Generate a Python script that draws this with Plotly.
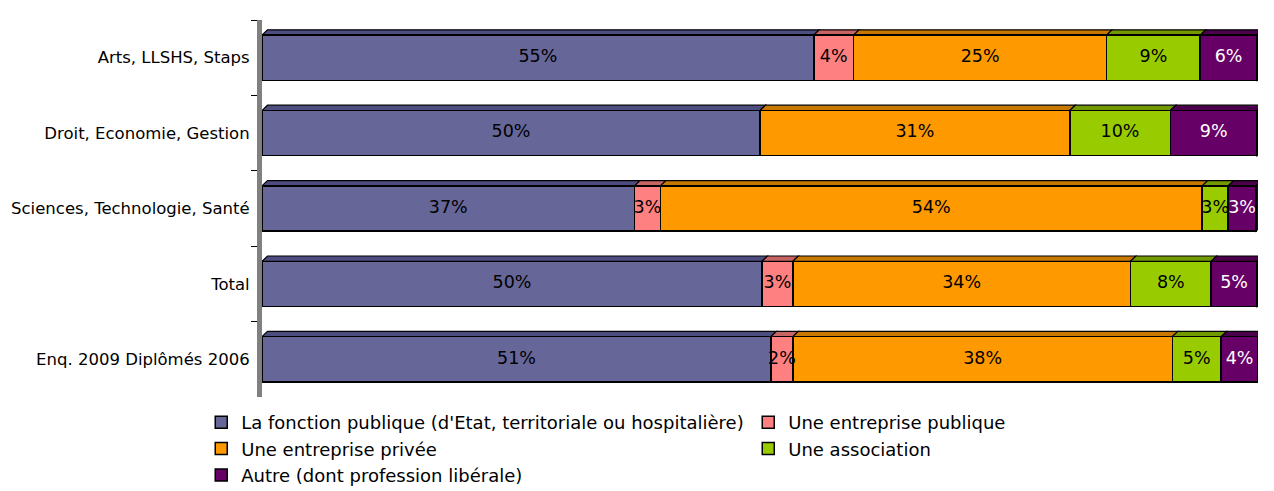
import plotly.graph_objects as go

categories = ["Arts, LLSHS, Staps", "Droit, Economie, Gestion",
              "Sciences, Technologie, Santé", "Total", "Enq. 2009 Diplômés 2006"]

series_names = ["La fonction publique (d'Etat, territoriale ou hospitalière)",
                "Une entreprise publique", "Une entreprise privée",
                "Une association", "Autre (dont profession libérale)"]

fonction_publique = [55.4, 50.0, 37.4, 50.2, 51.1]
entreprise_publique = [4.0, None, 2.6, 3.1, 2.2]
entreprise_privee = [25.4, 31.1, 54.4, 33.9, 38.1]
association = [9.4, 10.1, 2.6, 8.1, 4.9]
autre = [5.7, 8.7, 2.8, 4.6, 3.7]

colors = ["#666699", "#FF8080", "#FF9900", "#99CC00", "#660066"]
top_colors = ["#4D4D80", "#C86464", "#C87800", "#739900", "#4A004A"]
side_color = "#330033"
text_colors = ["black", "black", "black", "black", "white"]

FONT = "DejaVu Sans"
series = [fonction_publique, entreprise_publique, entreprise_privee, association, autre]

# page body has an 8px margin, so the figure is sized to fit the window
W, H = 1266, 483

fig = go.Figure()
for name, vals, col in zip(series_names, series, colors):
    fig.add_trace(go.Bar(
        y=categories, x=vals, name=name, orientation="h",
        marker=dict(color=col, line=dict(color="black", width=1.5)),
        hoverinfo="x+name",
    ))

# value labels centred on each segment (cumulative mid-points of the stack)
cum = [0.0] * len(categories)
for vals, tcol in zip(series, text_colors):
    xs, ys, ts = [], [], []
    for i, v in enumerate(vals):
        if not v:
            continue
        xs.append(cum[i] + v / 2)
        ys.append(categories[i])
        ts.append(f"{v:.0f}%")
        cum[i] += v
    fig.add_trace(go.Scatter(x=xs, y=ys, text=ts, mode="text", showlegend=False,
                             textfont=dict(color=tcol, size=17.5, family=FONT),
                             hoverinfo="skip", cliponaxis=False))

# pseudo-3D depth faces derived from the stacked data
half = 0.3      # half bar thickness (bargap 0.4)
dx = 0.55       # depth along x (data units)
dy = 0.07       # depth along y (category units)
shapes = []
for i in range(len(categories)):
    start = 0.0
    for s, vals in enumerate(series):
        v = vals[i]
        if not v:
            continue
        end = start + v
        yt = i - half
        shapes.append(dict(type="path", xref="x", yref="y", layer="below",
                           path=f"M {start},{yt} L {start+dx},{yt-dy} L {end+dx},{yt-dy} L {end},{yt} Z",
                           fillcolor=top_colors[s], line=dict(color="black", width=1.2)))
        start = end
    yt, yb = i - half, i + half
    shapes.append(dict(type="path", xref="x", yref="y", layer="below",
                       path=f"M {start},{yt} L {start+dx},{yt-dy} L {start+dx},{yb-dy} L {start},{yb} Z",
                       fillcolor=side_color, line=dict(color="black", width=1.2)))

fig.update_layout(
    barmode="stack", bargap=0.4,
    width=W, height=H,
    margin=dict(l=254, r=16, t=12, b=94, autoexpand=False),
    plot_bgcolor="white", paper_bgcolor="white",
    font=dict(family=FONT, size=16, color="black"),
    showlegend=True, shapes=shapes,
    legend=dict(orientation="h", x=-0.061, xanchor="left",
                y=-0.0186, yanchor="top",
                entrywidth=502, entrywidthmode="pixels", traceorder="normal",
                font=dict(size=18, family=FONT), itemwidth=30, tracegroupgap=0),
)
fig.update_xaxes(range=[0, 100], showgrid=False, showticklabels=False, zeroline=False,
                 showline=False, ticks="")
fig.update_yaxes(autorange="reversed", showgrid=False, showline=True, linecolor="#808080",
                 linewidth=5, ticks="outside", tickson="boundaries", ticklen=6,
                 tickcolor="black", ticklabelstandoff=4, automargin=False,
                 tickfont=dict(size=16.5, family=FONT))

fig.write_html("out.html")
